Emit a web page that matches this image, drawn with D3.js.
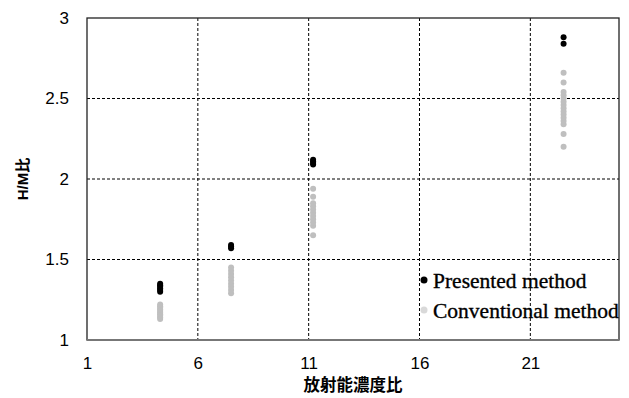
<!DOCTYPE html>
<html>
<head>
<meta charset="utf-8">
<script src="https://cdn.jsdelivr.net/npm/d3@7"></script>
<style>
  body { margin: 0; background: #fff; }
  svg { display: block; }
</style>
</head>
<body>
<svg id="output" width="629" height="398"></svg>
<script>
// concentration ratio of each measured group
const groupX = [4.3, 7.5, 11.2, 22.5];

// H/M ratio, presented method (black)
const presented = [
  [1.30, 1.31, 1.32, 1.33, 1.34, 1.35],
  [1.57, 1.58, 1.59],
  [2.09, 2.10, 2.11, 2.12],
  [2.84, 2.88]
];

// H/M ratio, conventional method (gray)
const conventional = [
  [1.13, 1.14, 1.15, 1.16, 1.17, 1.18, 1.19, 1.20, 1.21, 1.22],
  [1.29, 1.31, 1.33, 1.35, 1.37, 1.39, 1.41, 1.43, 1.45],
  [1.65, 1.71, 1.73, 1.75, 1.77, 1.79, 1.81, 1.83, 1.85, 1.89, 1.94],
  [2.20, 2.28, 2.34, 2.36, 2.38, 2.40, 2.42, 2.44, 2.46, 2.48, 2.50, 2.52, 2.54, 2.60, 2.66]
];

const xTicks = [1, 6, 11, 16, 21];
const yTicks = [1, 1.5, 2, 2.5, 3];
const legendLabels = ["Presented method", "Conventional method"];

document.addEventListener('DOMContentLoaded', function() {
  const svg = d3.select("#output");
  const left = 87, right = 619, top = 18, bottom = 340;

  const x = d3.scaleLinear().domain([1, 25]).range([left, right]);
  const y = d3.scaleLinear().domain([1, 3]).range([bottom, top]);

  // dashed gridlines
  svg.append('g')
    .selectAll('line')
    .data(yTicks.slice(1, -1))
    .join('line')
    .attr('x1', left).attr('x2', right)
    .attr('y1', d => y(d)).attr('y2', d => y(d))
    .attr('stroke', '#000')
    .attr('stroke-dasharray', '3,2');

  svg.append('g')
    .selectAll('line')
    .data(xTicks.slice(1))
    .join('line')
    .attr('x1', d => x(d)).attr('x2', d => x(d))
    .attr('y1', top).attr('y2', bottom)
    .attr('stroke', '#000')
    .attr('stroke-dasharray', '3,2');

  // frame
  svg.append('rect')
    .attr('x', left).attr('y', top)
    .attr('width', right - left).attr('height', bottom - top)
    .attr('fill', 'none')
    .attr('stroke', '#222')
    .attr('stroke-width', 1.3);
  svg.append('line')
    .attr('x1', left).attr('x2', right)
    .attr('y1', bottom).attr('y2', bottom)
    .attr('stroke', '#777')
    .attr('stroke-width', 2);

  // axis labels
  const yAxis = d3.axisLeft(y).tickValues(yTicks).tickSize(0).tickPadding(18)
    .tickFormat(d3.format('~g'));
  svg.append('g')
    .attr('transform', `translate(${left},0)`)
    .call(yAxis)
    .call(g => g.select('.domain').remove())
    .selectAll('text')
    .attr('font-family', 'Liberation Sans, Arial, sans-serif')
    .attr('font-size', 17)
    .attr('fill', '#000');

  const xAxis = d3.axisBottom(x).tickValues(xTicks).tickSize(0).tickPadding(17);
  svg.append('g')
    .attr('transform', `translate(0,${bottom})`)
    .call(xAxis)
    .call(g => g.select('.domain').remove())
    .selectAll('text')
    .attr('font-family', 'Liberation Sans Narrow, Liberation Sans, sans-serif')
    .attr('font-size', 17)
    .attr('fill', '#000');

  svg.append('text')
    .attr('x', (left + right) / 2).attr('y', 391)
    .attr('text-anchor', 'middle')
    .attr('font-family', 'Noto Sans CJK JP, sans-serif')
    .attr('font-weight', 'bold')
    .attr('font-size', 16.5)
    .text('放射能濃度比');

  svg.append('text')
    .attr('transform', `translate(28,${(top + bottom) / 2}) rotate(-90)`)
    .attr('text-anchor', 'middle')
    .attr('font-family', 'Liberation Sans, Noto Sans CJK JP, sans-serif')
    .attr('font-weight', 'bold')
    .attr('font-size', 15)
    .text('H/M比');

  // points
  const flat = (arr) => arr.flatMap((vals, i) => vals.map(v => ({ x: groupX[i], y: v })));

  svg.append('g')
    .selectAll('circle')
    .data(flat(conventional))
    .join('circle')
    .attr('cx', d => x(d.x)).attr('cy', d => y(d.y))
    .attr('r', 3)
    .attr('fill', '#bfbfbf');

  svg.append('g')
    .selectAll('circle')
    .data(flat(presented))
    .join('circle')
    .attr('cx', d => x(d.x)).attr('cy', d => y(d.y))
    .attr('r', 3)
    .attr('fill', '#000');

  // legend
  const legend = svg.append('g')
    .selectAll('g')
    .data(legendLabels)
    .join('g')
    .attr('transform', (d, i) => `translate(424,${280 + i * 30})`);
  legend.append('circle')
    .attr('r', 3.5)
    .attr('fill', (d, i) => i === 0 ? '#000' : '#d9d9d9');
  legend.append('text')
    .attr('x', 9).attr('y', 8)
    .attr('font-family', 'Liberation Serif, Times New Roman, serif')
    .attr('font-size', 21.5)
    .attr('stroke', '#000')
    .attr('stroke-width', 0.35)
    .text(d => d);
});
</script>
</body>
</html>
